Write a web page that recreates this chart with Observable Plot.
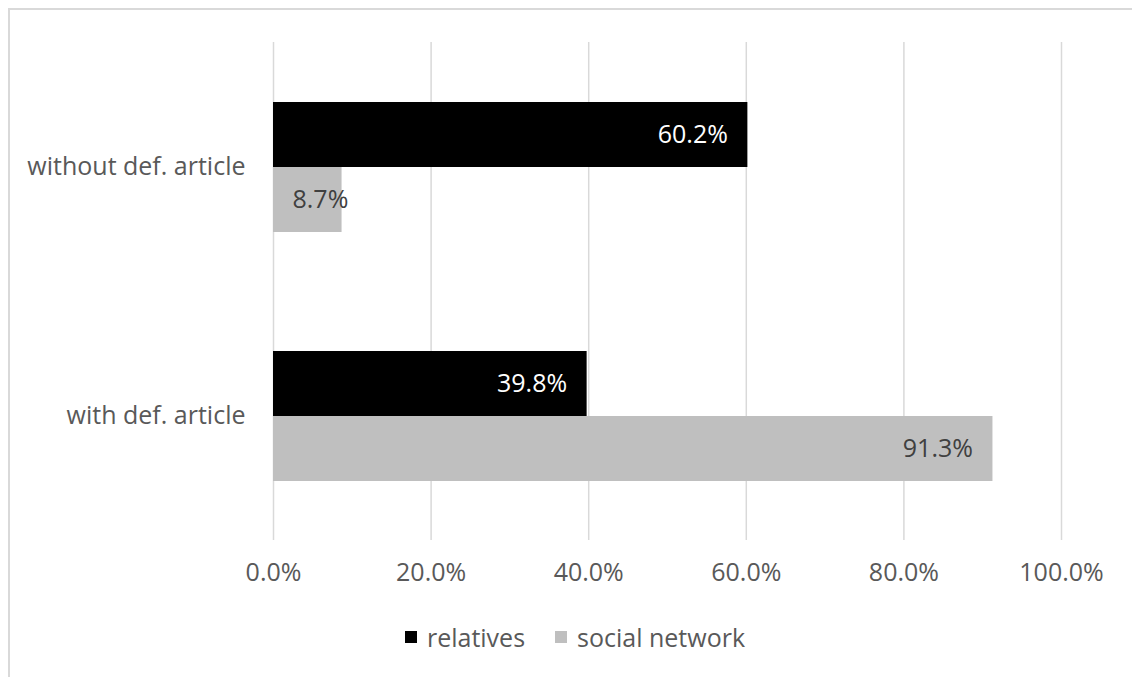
<!DOCTYPE html>
<html>
<head>
<meta charset="utf-8">
<script src="https://cdn.jsdelivr.net/npm/d3@7"></script>
<script src="https://cdn.jsdelivr.net/npm/@observablehq/plot@0.6"></script>
<style>
  html, body { margin: 0; padding: 0; background: #fff; }
  #wrap { position: relative; width: 1132px; height: 677px; overflow: hidden; font-family: "Open Sans", sans-serif; }
  #frame { position: absolute; left: 8px; top: 8px; width: 1200px; height: 700px; border-left: 2px solid #d9d9d9; border-top: 2px solid #d9d9d9; box-sizing: border-box; }
  #chart { position: absolute; left: 0; top: 0; }
  #legend { position: absolute; left: 0; width: 1150px; top: 620px; display: flex; justify-content: center; align-items: center; font-size: 25px; color: #595959; }
  .item { display: flex; align-items: center; margin: 0 15px; }
  .sw { width: 12px; height: 12px; margin-right: 10px; }
</style>
</head>
<body>
<div id="wrap">
  <div id="frame"></div>
  <div id="chart"></div>
  <div id="legend"></div>
</div>
<script>
const categories = ["without def. article", "with def. article"];
const series = ["relatives", "social network"];
const relativesValues = [60.2, 39.8];
const socialNetworkValues = [8.7, 91.3];
const xTicks = [0, 20, 40, 60, 80, 100];
const seriesColors = ["#000000", "#bfbfbf"];

const data = [];
categories.forEach((c, i) => {
  data.push({category: c, series: series[0], value: relativesValues[i]});
  data.push({category: c, series: series[1], value: socialNetworkValues[i]});
});

const fmt = d => d.value.toFixed(1) + "%";
const big = d => d.value >= 20;

const chart = Plot.plot({
  width: 1132,
  height: 610,
  marginLeft: 273,
  marginRight: 71,
  marginTop: 42,
  marginBottom: 70,
  style: {fontFamily: "Open Sans, sans-serif", fontSize: "25px", color: "#595959", background: "transparent"},
  facet: {marginTop: 0, marginBottom: 0, marginLeft: 0, marginRight: 0},
  x: {domain: [0, 100], ticks: xTicks, tickFormat: d => d.toFixed(1) + "%", tickSize: 0, tickPadding: 23, label: null},
  y: {domain: series, axis: null, paddingInner: 0, paddingOuter: 0.915},
  fy: {domain: categories, padding: 0, axis: "left", tickSize: 0, tickPadding: 28, label: null},
  color: {domain: series, range: seriesColors},
  marks: [
    Plot.gridX(xTicks, {stroke: "#d9d9d9", strokeOpacity: 1, strokeWidth: 1.5}),
    Plot.barX(data, {x: "value", y: "series", fy: "category", fill: "series"}),
    Plot.text(data.filter(d => d.series === series[0] && big(d)), {x: "value", y: "series", fy: "category", text: fmt, textAnchor: "end", dx: -20, fill: "white", fontSize: 25}),
    Plot.text(data.filter(d => d.series === series[1] && big(d)), {x: "value", y: "series", fy: "category", text: fmt, textAnchor: "end", dx: -20, fill: "#404040", fontSize: 25}),
    Plot.text(data.filter(d => !big(d)), {x: 0, y: "series", fy: "category", text: fmt, textAnchor: "start", dx: 19, fill: "#404040", fontSize: 25})
  ]
});
document.getElementById("chart").appendChild(chart);

const legend = document.getElementById("legend");
series.forEach((s, i) => {
  const item = document.createElement("div");
  item.className = "item";
  const sw = document.createElement("div");
  sw.className = "sw";
  sw.style.background = seriesColors[i];
  const lab = document.createElement("span");
  lab.textContent = s;
  item.appendChild(sw);
  item.appendChild(lab);
  legend.appendChild(item);
});
</script>
</body>
</html>
